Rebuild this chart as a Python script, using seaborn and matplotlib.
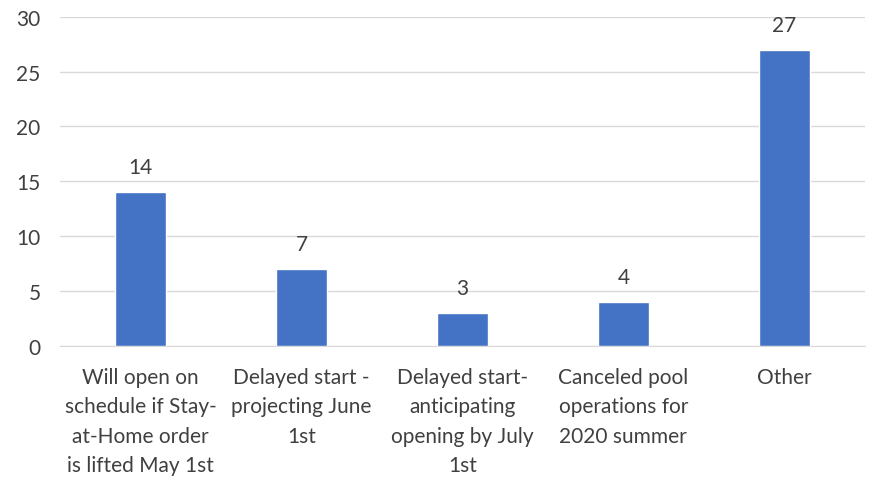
import matplotlib
matplotlib.use("Agg")
import matplotlib.pyplot as plt
import seaborn as sns
import pandas as pd

categories = ["Will open on\nschedule if Stay-\nat-Home order\nis lifted May 1st",
              "Delayed start -\nprojecting June\n1st",
              "Delayed start-\nanticipating\nopening by July\n1st",
              "Canceled pool\noperations for\n2020 summer",
              "Other"]
counts = [14, 7, 3, 4, 27]

df = pd.DataFrame({"cat": categories, "n": counts})

sns.set_style("white")
plt.rcParams['font.family'] = ['Lato', 'DejaVu Sans']

fig = plt.figure(figsize=(8.7, 4.81), dpi=100)
ax = fig.add_axes([0.069, 0.279, 0.925, 0.684])
sns.barplot(data=df, x="cat", y="n", color="#4472C4", width=0.32, saturation=1, ax=ax, zorder=3)

ax.set_ylim(0, 30)
ax.set_yticks(range(0, 31, 5))
ax.grid(axis="y", color="#D9D9D9", linewidth=1, zorder=0)
for s in ["top", "right", "left"]:
    ax.spines[s].set_visible(False)
ax.spines["bottom"].set_color("#D9D9D9")
ax.set_xlabel("")
ax.set_ylabel("")
ax.tick_params(axis="both", length=0, labelsize=15, colors="#404040")
ax.tick_params(axis="x", pad=15)
ax.tick_params(axis="y", pad=14)
for lbl in ax.get_xticklabels():
    lbl.set_linespacing(1.6)
    lbl.set_va("top")

for i, v in enumerate(counts):
    ax.text(i, v + 1.35, str(v), ha="center", va="bottom", fontsize=15, color="#404040")

fig.savefig("out.png", dpi=100)
